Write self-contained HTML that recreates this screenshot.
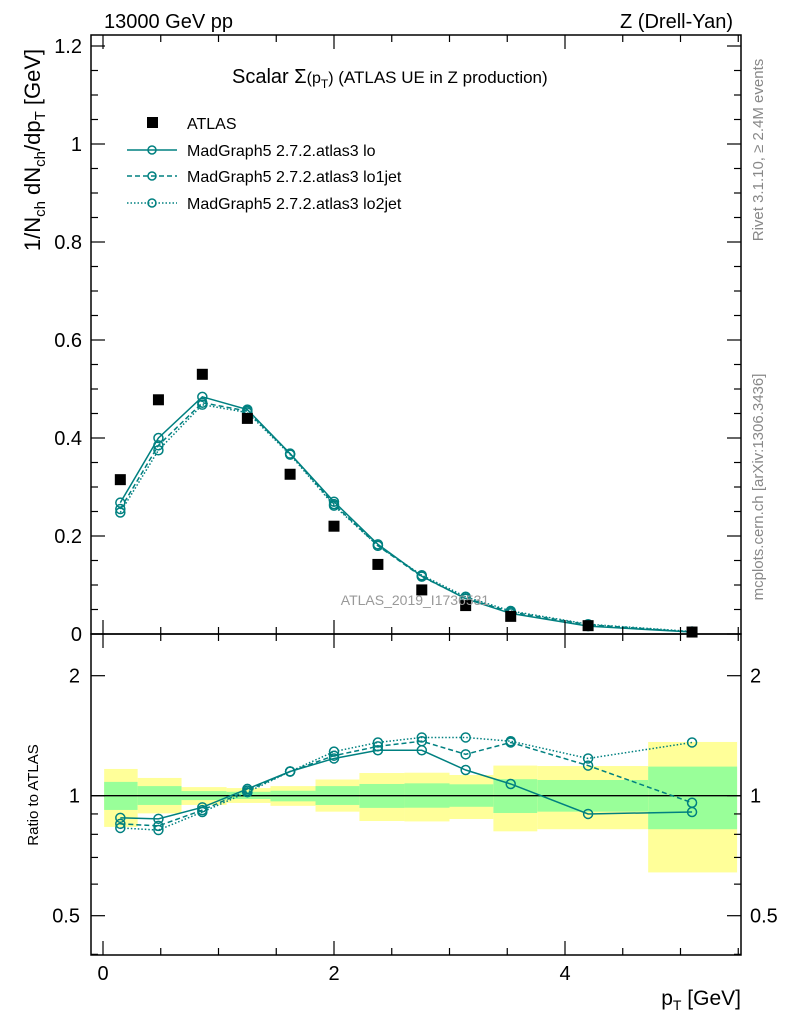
<!DOCTYPE html>
<html><head><meta charset="utf-8"><style>
body{margin:0;background:#fff;}
svg{display:block;font-family:"Liberation Sans",sans-serif;}
</style></head><body>
<svg id="chart" width="786" height="1024" viewBox="0 0 786 1024">
<g id="bands"></g>
<g id="marks"></g>
<g id="axes"></g>
<text x="104" y="28" font-size="20">13000 GeV pp</text>
<text x="733" y="28" font-size="20" text-anchor="end">Z (Drell-Yan)</text>
<text x="232" y="83" font-size="20">Scalar Σ<tspan font-size="16">(p</tspan><tspan font-size="12" dy="5">T</tspan><tspan font-size="16" dy="-5">)</tspan><tspan font-size="17"> (ATLAS UE in Z production)</tspan></text>
<text x="415" y="605" font-size="14" fill="#999" text-anchor="middle">ATLAS_2019_I1736531</text>
<text transform="translate(763,150) rotate(-90)" font-size="15" fill="#888" text-anchor="middle">Rivet 3.1.10, ≥ 2.4M events</text>
<text transform="translate(763,487) rotate(-90)" font-size="15" fill="#888" text-anchor="middle">mcplots.cern.ch [arXiv:1306.3436]</text>
<text transform="translate(40,150) rotate(-90)" font-size="22" text-anchor="middle">1/N<tspan font-size="15" dy="5">ch</tspan><tspan dy="-5"> dN</tspan><tspan font-size="15" dy="5">ch</tspan><tspan dy="-5">/dp</tspan><tspan font-size="15" dy="5">T</tspan><tspan dy="-5"> [GeV]</tspan></text>
<text transform="translate(38,795) rotate(-90)" font-size="15" text-anchor="middle">Ratio to ATLAS</text>
<text x="741" y="1005" font-size="21" text-anchor="end">p<tspan font-size="14" dy="5">T</tspan><tspan dy="-5"> [GeV]</tspan></text>
<g>
<rect x="147" y="117" width="11" height="11" fill="#000"/>
<text x="187" y="129" font-size="16">ATLAS</text>
<line x1="127" y1="150" x2="177" y2="150" stroke="#008080" stroke-width="1.5"/>
<circle cx="152" cy="150" r="4" fill="none" stroke="#008080" stroke-width="1.5"/>
<text x="187" y="156" font-size="16">MadGraph5 2.7.2.atlas3 lo</text>
<line x1="127" y1="176" x2="177" y2="176" stroke="#008080" stroke-width="1.5" stroke-dasharray="5,3"/>
<circle cx="152" cy="176" r="4" fill="none" stroke="#008080" stroke-width="1.5"/>
<text x="187" y="182" font-size="16">MadGraph5 2.7.2.atlas3 lo1jet</text>
<line x1="127" y1="203" x2="177" y2="203" stroke="#008080" stroke-width="1.5" stroke-dasharray="1.5,2"/>
<circle cx="152" cy="203" r="4" fill="none" stroke="#008080" stroke-width="1.5"/>
<text x="187" y="209" font-size="16">MadGraph5 2.7.2.atlas3 lo2jet</text>
</g>
</svg>
<script>
const xs=[0.15,0.48,0.86,1.25,1.62,2.0,2.38,2.76,3.14,3.53,4.2,5.1];
const atlas=[0.315,0.478,0.53,0.44,0.326,0.22,0.142,0.09,0.058,0.036,0.017,0.004];
const lo=[0.268,0.40,0.484,0.458,0.368,0.27,0.183,0.118,0.072,0.042,0.016,0.004];
const lo1jet=[0.255,0.385,0.472,0.455,0.368,0.265,0.18,0.117,0.073,0.045,0.019,0.004];
const lo2jet=[0.248,0.375,0.468,0.452,0.366,0.262,0.18,0.12,0.076,0.047,0.02,0.005];
const rLo=[0.88,0.875,0.935,1.04,1.15,1.24,1.30,1.30,1.16,1.07,0.90,0.91];
const rLo1=[0.85,0.84,0.92,1.03,1.15,1.26,1.33,1.37,1.27,1.36,1.19,0.96];
const rLo2=[0.83,0.82,0.91,1.02,1.15,1.29,1.36,1.40,1.40,1.37,1.24,1.36];
const binEdges=[0.01,0.30,0.68,1.07,1.45,1.84,2.22,2.61,3.0,3.38,3.76,4.72,5.49];
const yelHi=[1.167,1.108,1.051,1.045,1.057,1.098,1.14,1.142,1.127,1.19,1.187,1.364];
const yelLo=[0.835,0.903,0.948,0.959,0.943,0.912,0.864,0.862,0.874,0.814,0.824,0.642];
const grnHi=[1.083,1.057,1.027,1.023,1.029,1.057,1.07,1.074,1.068,1.1,1.095,1.183];
const grnLo=[0.921,0.948,0.975,0.981,0.968,0.948,0.932,0.933,0.938,0.905,0.912,0.824];
const xTicks=[0,2,4];
const yTicks=[0,0.2,0.4,0.6,0.8,1,1.2];
const yTickLabels=["0","0.2","0.4","0.6","0.8","1","1.2"];
const rTicks=[0.5,1,2];

const L=91,R=741,T=35,M=634,B=955;
const X=v=>103+v*115.5;
const Y=v=>634-v*490;
const RY=v=>795.7-Math.log2(v)*120;
const NS="http://www.w3.org/2000/svg";
function el(p,t,a){const e=document.createElementNS(NS,t);for(const k in a)e.setAttribute(k,a[k]);p.appendChild(e);return e;}
const bands=document.getElementById('bands'),marks=document.getElementById('marks'),axes=document.getElementById('axes');
const C="#008080";
for(let i=0;i<yelHi.length;i++){
 const x0=X(binEdges[i]),x1=X(binEdges[i+1]);
 const y=el(bands,'rect',{x:x0,y:RY(yelHi[i]),width:x1-x0,height:RY(yelLo[i])-RY(yelHi[i]),fill:'#ffff99'});
 
 
 const g=el(bands,'rect',{x:x0,y:RY(grnHi[i]),width:x1-x0,height:RY(grnLo[i])-RY(grnHi[i]),fill:'#99ff99'});
 
 
}
const unity=el(marks,'line',{x1:L,x2:R,y1:RY(1),y2:RY(1),stroke:'#000','stroke-width':1.3});


function series(vals,fy,dash,name){
 const pts=vals.map((v,i)=>X(xs[i])+','+fy(v)).join(' ');
 const pl=el(marks,'polyline',{points:pts,fill:'none',stroke:C,'stroke-width':1.5,'stroke-dasharray':dash});
 
 
 vals.forEach((v,i)=>{
  const c=el(marks,'circle',{cx:X(xs[i]),cy:fy(v),r:4.5,fill:'none',stroke:C,'stroke-width':1.5});
  
  
 });
}
series(lo,Y,'none','lo');series(lo1jet,Y,'5,3','lo1jet');series(lo2jet,Y,'1.5,2','lo2jet');
series(rLo,RY,'none','ratio-lo');series(rLo1,RY,'5,3','ratio-lo1jet');series(rLo2,RY,'1.5,2','ratio-lo2jet');
atlas.forEach((v,i)=>{
 const r=el(marks,'rect',{x:X(xs[i])-5.5,y:Y(v)-5.5,width:11,height:11,fill:'#000'});
 
 
});
[[T,M],[M,B]].forEach(([a,b])=>{const f=el(axes,'rect',{x:L,y:a,width:R-L,height:b-a,fill:'none',stroke:'#000','stroke-width':1.5});
 
 });
for(let v=0;v<=5.5;v+=0.5){
 const maj=Math.abs(v/2-Math.round(v/2))<1e-6,len=maj?14:7;
 [[T,1],[M,-1],[M,1],[B,-1]].forEach(([y,d])=>el(axes,'line',{x1:X(v),x2:X(v),y1:y,y2:y+d*len,stroke:'#000','stroke-width':1.2}));
}
xTicks.forEach(v=>{const t=el(axes,'text',{x:X(v),y:980,'font-size':20,'text-anchor':'middle'});t.textContent=v;
 
 });
for(let v=0;v<=1.2001;v+=0.05){
 const maj=Math.abs(v/0.2-Math.round(v/0.2))<1e-6,len=maj?14:7;
 el(axes,'line',{x1:L,x2:L+len,y1:Y(v),y2:Y(v),stroke:'#000','stroke-width':1.2});
 el(axes,'line',{x1:R,x2:R-len,y1:Y(v),y2:Y(v),stroke:'#000','stroke-width':1.2});
}
yTicks.forEach((v,i)=>{const t=el(axes,'text',{x:82,y:Y(v)+7,'font-size':20,'text-anchor':'end'});t.textContent=yTickLabels[i];
 
 });
[0.4,0.5,0.6,0.7,0.8,0.9,1,2].forEach(v=>{
 const maj=rTicks.includes(v),len=maj?14:7,y=RY(v);
 if(y<M||y>B)return;
 el(axes,'line',{x1:L,x2:L+len,y1:y,y2:y,stroke:'#000','stroke-width':1.2});
 el(axes,'line',{x1:R,x2:R-len,y1:y,y2:y,stroke:'#000','stroke-width':1.2});
});
rTicks.forEach(v=>{
 const t=el(axes,'text',{x:80,y:RY(v)+7,'font-size':20,'text-anchor':'end'});t.textContent=v;
 
 
 const t2=el(axes,'text',{x:750,y:RY(v)+7,'font-size':20});t2.textContent=v;
 
 
});
</script>
</body></html>
